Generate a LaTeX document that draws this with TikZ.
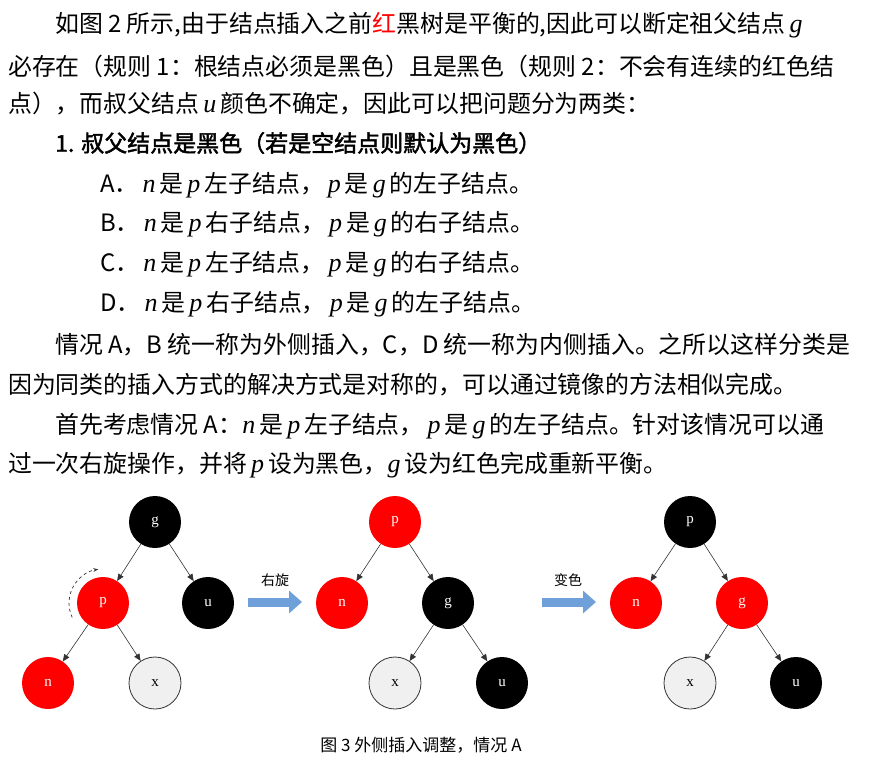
\documentclass[tikz,border=0pt]{standalone}
\usepackage{fontspec}
\setmainfont{Liberation Serif}
\newfontfamily\cjk{Noto Sans CJK SC}
\newfontfamily\cjkb[FakeBold=2]{Noto Sans CJK SC}
\usetikzlibrary{arrows.meta}
\definecolor{rbred}{RGB}{255,0,0}
\definecolor{xgray}{RGB}{240,240,240}
\definecolor{arrblue}{RGB}{112,160,218}
\newcommand{\vi}[1]{{\rmfamily\itshape\fontsize{26}{26}\selectfont #1}}
\tikzset{
  txt/.style={anchor=west,inner sep=0pt,font=\cjk\fontsize{23.9}{24}\selectfont},
  bnode/.style={circle,minimum size=52pt,inner sep=0pt,fill=black,text=white,font=\rmfamily\fontsize{15}{15}\selectfont},
  rnode/.style={circle,minimum size=52pt,inner sep=0pt,fill=rbred,text=white,font=\rmfamily\fontsize{15}{15}\selectfont},
  xnode/.style={circle,minimum size=52pt,inner sep=0pt,fill=xgray,draw=black!80,line width=0.8pt,font=\rmfamily\fontsize{15}{15}\selectfont},
  edge/.style={-{Triangle[length=7pt,width=6pt]},line width=0.6pt,black!80},
  bigarrow/.style={-{Triangle[length=13pt,width=22pt]},line width=9pt,arrblue},
}
\begin{document}
\begin{tikzpicture}[x=1pt,y=-1pt]
\useasboundingbox (0,0) rectangle (869,764);
\node[txt] (l1) at (55,25) {如图 2 所示,由于结点插入之前\textcolor{rbred}{红}黑树是平衡的,因此可以断定祖父结点\,\vi{g}};
\node[txt] (l2) at (8,66) {必存在（规则 1：根结点必须是黑色）且是黑色（规则 2：不会有连续的红色结};
\node[txt] (l3) at (8,104) {点），而叔父结点\,\vi{u}\,颜色不确定，因此可以把问题分为两类：};
\node[txt,font=\cjkb\fontsize{23}{24}\selectfont] (l4) at (55,143) {1. 叔父结点是黑色（若是空结点则默认为黑色）};
\node[txt] (la) at (100,185) {A．\,\vi{n}\,是\,\vi{p}\,左子结点，\,\vi{p}\,是\,\vi{g}\,的左子结点。};
\node[txt] (lb) at (100,224) {B．\,\vi{n}\,是\,\vi{p}\,右子结点，\,\vi{p}\,是\,\vi{g}\,的右子结点。};
\node[txt] (lc) at (100,264) {C．\,\vi{n}\,是\,\vi{p}\,左子结点，\,\vi{p}\,是\,\vi{g}\,的右子结点。};
\node[txt] (ld) at (100,304) {D．\,\vi{n}\,是\,\vi{p}\,右子结点，\,\vi{p}\,是\,\vi{g}\,的左子结点。};
\node[txt] (l5) at (55,345) {情况 A，B 统一称为外侧插入，C，D 统一称为内侧插入。之所以这样分类是};
\node[txt] (l6) at (8,385) {因为同类的插入方式的解决方式是对称的，可以通过镜像的方法相似完成。};
\node[txt] (l7) at (55,426) {首先考虑情况 A：\vi{n}\,是\,\vi{p}\,左子结点，\,\vi{p}\,是\,\vi{g}\,的左子结点。针对该情况可以通};
\node[txt] (l8) at (8,465) {过一次右旋操作，并将\,\vi{p}\,设为黑色，\vi{g}\,设为红色完成重新平衡。};
% tree 1
\node[bnode] (g1) at (155,522) {g};
\node[rnode] (p1) at (103,603) {p};
\node[bnode] (u1) at (208,603) {u};
\node[rnode] (n1) at (48,683) {n};
\node[xnode] (x1) at (155,683) {x};
\draw[edge] (g1) -- (p1); \draw[edge] (g1) -- (u1);
\draw[edge] (p1) -- (n1); \draw[edge] (p1) -- (x1);
\draw[-{Stealth[length=5pt]},dashed,line width=0.7pt,black!80] ([shift={(155:34)}]p1.center) arc[start angle=155,end angle=262,radius=34];
% arrow 1
\coordinate (a1s) at (248,602); \coordinate (a1e) at (302,602);
\draw[bigarrow] (a1s) -- (a1e);
\node[font=\cjk\fontsize{14}{14}\selectfont] (t1) at (275,580) {右旋};
% tree 2
\node[rnode] (p2) at (395,522) {p};
\node[rnode] (n2) at (342,603) {n};
\node[bnode] (g2) at (448,603) {g};
\node[xnode] (x2) at (395,683) {x};
\node[bnode] (u2) at (502,683) {u};
\draw[edge] (p2) -- (n2); \draw[edge] (p2) -- (g2);
\draw[edge] (g2) -- (x2); \draw[edge] (g2) -- (u2);
% arrow 2
\coordinate (a2s) at (542,602); \coordinate (a2e) at (596,602);
\draw[bigarrow] (a2s) -- (a2e);
\node[font=\cjk\fontsize{14}{14}\selectfont] (t2) at (568,580) {变色};
% tree 3
\node[bnode] (p3) at (690,522) {p};
\node[rnode] (n3) at (636,603) {n};
\node[rnode] (g3) at (742,603) {g};
\node[xnode] (x3) at (690,683) {x};
\node[bnode] (u3) at (796,683) {u};
\draw[edge] (p3) -- (n3); \draw[edge] (p3) -- (g3);
\draw[edge] (g3) -- (x3); \draw[edge] (g3) -- (u3);
\node[font=\cjk\fontsize{17}{17}\selectfont] (cap) at (421,745) {图 3 外侧插入调整，情况 A};
\end{tikzpicture}
\end{document}
